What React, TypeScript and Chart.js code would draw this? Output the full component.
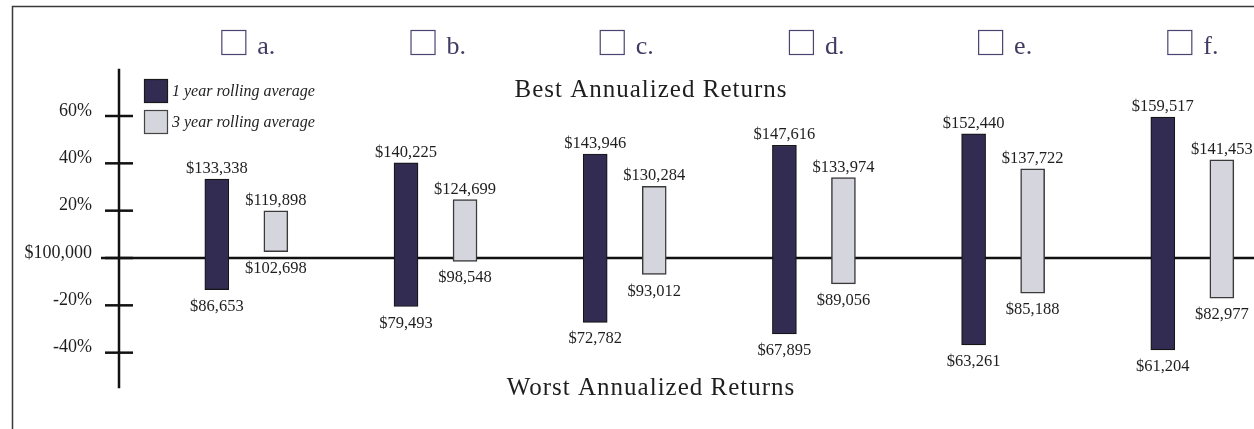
import React, { useEffect, useRef } from "react";
import { Chart, registerables } from "chart.js";

Chart.register(...registerables);

// ---- Data ----
const categories = ["a.", "b.", "c.", "d.", "e.", "f."];
const oneYearBest = [133338, 140225, 143946, 147616, 152440, 159517];
const oneYearWorst = [86653, 79493, 72782, 67895, 63261, 61204];
const threeYearBest = [119898, 124699, 130284, 133974, 137722, 141453];
const threeYearWorst = [102698, 98548, 93012, 89056, 85188, 82977];
const tickValues = [160000, 140000, 120000, 100000, 80000, 60000];
const tickLabels = ["60%", "40%", "20%", "$100,000", "-20%", "-40%"];
const seriesNames = ["1 year rolling average", "3 year rolling average"];
const titleTop = "Best Annualized Returns";
const titleBottom = "Worst Annualized Returns";

const FONT = '"Liberation Serif", "Times New Roman", serif';
const DARK = "#322c52";
const LIGHT = "#d5d5dd";
const PAIR_OFFSET = 0.156;
const AXIS_BOTTOM_VALUE = 45000;

const fmt = (v: number) => "$" + v.toLocaleString("en-US");

const decorPlugin = {
  id: "decor",
  beforeDatasetsDraw(chart: any) {
    const { ctx, chartArea, scales } = chart;
    const y = scales.y;
    const x = scales.x;
    ctx.save();
    // frame
    ctx.strokeStyle = "#3a3a3a";
    ctx.lineWidth = 1.5;
    ctx.strokeRect(12.5, 6.5, chart.width + 20, chart.height + 20);

    // zero line
    const y0 = y.getPixelForValue(100000);
    ctx.strokeStyle = "#111";
    ctx.lineWidth = 2.5;
    ctx.beginPath();
    ctx.moveTo(chartArea.left - 18, y0);
    ctx.lineTo(chart.width, y0);
    ctx.stroke();

    // vertical axis
    ctx.beginPath();
    ctx.moveTo(chartArea.left, chartArea.top);
    ctx.lineTo(chartArea.left, y.getPixelForValue(AXIS_BOTTOM_VALUE));
    ctx.stroke();

    // tick marks
    tickValues.forEach((v) => {
      const py = y.getPixelForValue(v);
      ctx.beginPath();
      ctx.moveTo(chartArea.left - 14, py);
      ctx.lineTo(chartArea.left + 14, py);
      ctx.stroke();
    });

    // checkbox headings
    categories.forEach((c, i) => {
      const cx = x.getPixelForValue(i);
      ctx.strokeStyle = "#4a4570";
      ctx.lineWidth = 1.2;
      ctx.strokeRect(cx - 24.5, 30.5, 24, 24);
      ctx.fillStyle = "#3f3b62";
      ctx.font = `26px ${FONT}`;
      ctx.textAlign = "left";
      ctx.textBaseline = "alphabetic";
      ctx.fillText(c, cx + 11, 54);
    });

    // titles
    ctx.fillStyle = "#1e1e1e";
    ctx.font = `25px ${FONT}`;
    ctx.textAlign = "center";
    (ctx as any).letterSpacing = "1px";
    ctx.fillText(titleTop, 651, 97);
    ctx.fillText(titleBottom, 651, 395);
    (ctx as any).letterSpacing = "0px";

    // legend
    const legendColors = [DARK, LIGHT];
    seriesNames.forEach((name, i) => {
      const top = 79 + i * 31;
      ctx.fillStyle = legendColors[i];
      ctx.fillRect(144, top, 24, 24);
      ctx.strokeStyle = i === 0 ? "#1a1a1a" : "#444";
      ctx.lineWidth = 1.2;
      ctx.strokeRect(144.5, top + 0.5, 23, 23);
      ctx.fillStyle = "#1e1e1e";
      ctx.font = `italic 16px ${FONT}`;
      ctx.textAlign = "left";
      ctx.fillText(name, 172, top + 17);
    });
    ctx.restore();
  },
  afterDatasetsDraw(chart: any) {
    const { ctx } = chart;
    ctx.save();
    ctx.fillStyle = "#1e1e1e";
    ctx.font = `16.5px ${FONT}`;
    ctx.textAlign = "center";
    ctx.textBaseline = "alphabetic";
    chart.data.datasets.forEach((ds: any, di: number) => {
      const meta = chart.getDatasetMeta(di);
      const best = di === 0 ? oneYearBest : threeYearBest;
      const worst = di === 0 ? oneYearWorst : threeYearWorst;
      meta.data.forEach((el: any, i: number) => {
        const top = Math.min(el.y, el.base);
        const bottom = Math.max(el.y, el.base);
        ctx.fillText(fmt(best[i]), el.x, top - 6);
        ctx.fillText(fmt(worst[i]), el.x, bottom + 21);
      });
    });
    ctx.restore();
  },
};

export default function App() {
  const ref = useRef<HTMLCanvasElement | null>(null);
  useEffect(() => {
    if (!ref.current) return;
    const chart = new Chart(ref.current, {
      type: "bar",
      data: {
        datasets: [
          {
            label: seriesNames[0],
            data: categories.map((_, i) => ({ x: i - PAIR_OFFSET, y: [oneYearWorst[i], oneYearBest[i]] })) as any,
            backgroundColor: DARK,
            borderColor: "#151515",
            borderWidth: 1.2,
            borderSkipped: false,
            grouped: false,
            barThickness: 24,
          },
          {
            label: seriesNames[1],
            data: categories.map((_, i) => ({ x: i + PAIR_OFFSET, y: [threeYearWorst[i], threeYearBest[i]] })) as any,
            backgroundColor: LIGHT,
            borderColor: "#3a3a3a",
            borderWidth: 1.5,
            borderSkipped: false,
            grouped: false,
            barThickness: 24,
          },
        ],
      },
      options: {
        animation: false,
        responsive: false,
        maintainAspectRatio: false,
        layout: { padding: { top: 68.67, bottom: 29, left: 0, right: 0 } },
        plugins: { legend: { display: false }, tooltip: { enabled: false }, title: { display: false } },
        scales: {
          x: {
            type: "linear",
            min: -0.673,
            max: 5.326,
            offset: false,
            display: false,
            grid: { display: false },
          },
          y: {
            type: "linear",
            min: 40000,
            max: 180000,
            grid: { display: false, drawTicks: false },
            border: { display: false },
            afterBuildTicks: (scale: any) => {
              scale.ticks = tickValues.map((v) => ({ value: v }));
            },
            afterFit: (scale: any) => {
              scale.width = 119;
              scale.paddingTop = 0;
              scale.paddingBottom = 0;
            },
            ticks: {
              padding: 27,
              labelOffset: -5,
              color: "#1e1e1e",
              font: { family: FONT, size: 18 },
              callback: (v: any) => {
                const idx = tickValues.indexOf(Number(v));
                return idx >= 0 ? tickLabels[idx] : "";
              },
            },
          },
        },
      },
      plugins: [decorPlugin],
    });
    return () => chart.destroy();
  }, []);
  return (
    <div style={{ position: "fixed", left: 0, top: 0, width: 1254, height: 429, background: "#fff" }}>
      <canvas ref={ref} width={1254} height={429} style={{ width: 1254, height: 429, display: "block" }} />
    </div>
  );
}
